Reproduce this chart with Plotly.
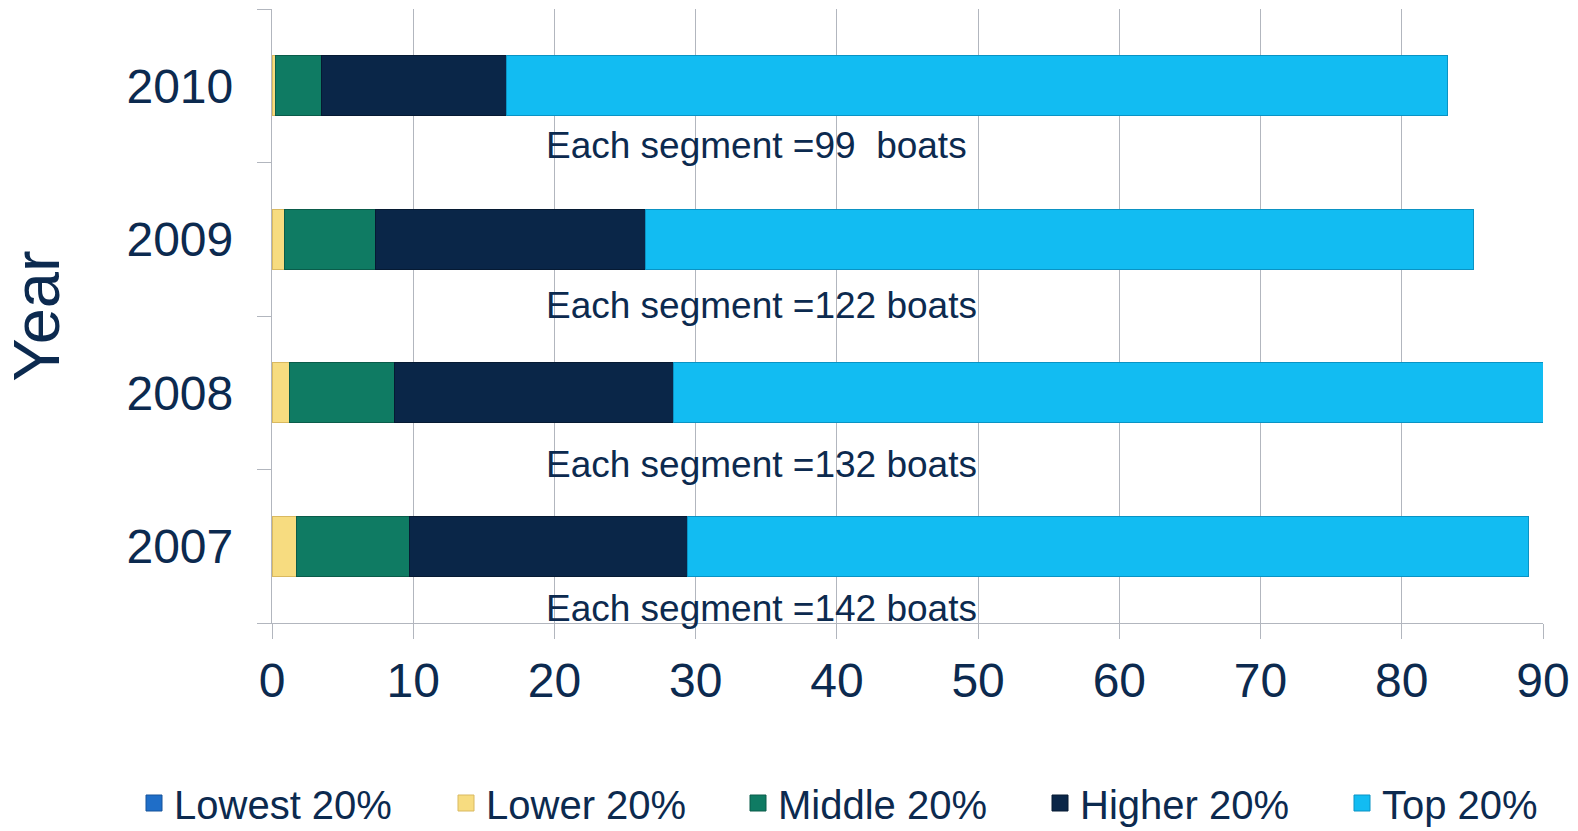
import plotly.graph_objects as go

years = ["2007", "2008", "2009", "2010"]
series_names = ["Lowest 20%", "Lower 20%", "Middle 20%", "Higher 20%", "Top 20%"]
lowest = [0.0, 0.0, 0.0, 0.0]
lower = [1.70, 1.23, 0.87, 0.28]
middle = [8.05, 7.43, 6.45, 3.21]
higher = [19.69, 19.78, 19.12, 13.11]
top = [59.52, 61.56, 58.62, 66.65]
segment_notes = ["Each segment =142 boats", "Each segment =132 boats",
                 "Each segment =122 boats", "Each segment =99\u00a0\u00a0boats"]
x_ticks = [0, 10, 20, 30, 40, 50, 60, 70, 80, 90]

colors = ["#1f6ec8", "#f7dc80", "#0f7b63", "#0a2648", "#12bcf2"]
edge_colors = ["#17529a", "#d9b960", "#0a5c4a", "#061a33", "#0a93c4"]
text_color = "#0c2a4f"
grid_color = "#b2b6be"

# one legend per entry so entries sit at the reference's positions
legend_ids = ["legend", "legend2", "legend3", "legend4", "legend5"]
legend_left_px = [134, 446, 738, 1040, 1342]

fig = go.Figure()
for name, vals, c, ec, lid in zip(series_names, [lowest, lower, middle, higher, top],
                                   colors, edge_colors, legend_ids):
    fig.add_trace(go.Bar(
        y=years, x=vals, orientation="h", name=name,
        marker=dict(color=c, line=dict(color=ec, width=1)),
        showlegend=False, hoverinfo="x+name",
    ))
    fig.add_trace(go.Scatter(
        x=[None], y=[None], mode="markers", name=name, legend=lid,
        marker=dict(symbol="square", size=16, color=c, line=dict(color=ec, width=1)),
        showlegend=True,
    ))

yshifts = [-62, -72, -66, -60]
for i, (yr, note) in enumerate(zip(years, segment_notes)):
    fig.add_annotation(
        x=19.24, y=i, xref="x", yref="y", text=note, showarrow=False,
        xanchor="left", yanchor="middle", yshift=yshifts[i],
        font=dict(size=37, color=text_color, family="Liberation Sans, Arial"),
    )

W, H = 1578, 831
legend_layout = {}
for lid, px in zip(legend_ids, legend_left_px):
    legend_layout[lid] = dict(
        orientation="h", xref="container", yref="container",
        x=px / W, xanchor="left", y=1 - 803 / H, yanchor="middle",
        font=dict(size=40, color=text_color), bgcolor="rgba(0,0,0,0)",
    )

fig.update_layout(
    barmode="stack",
    bargap=0.61,
    width=W, height=H,
    margin=dict(l=272, r=35, t=9, b=208, autoexpand=False),
    plot_bgcolor="white", paper_bgcolor="white",
    font=dict(family="Liberation Sans, Arial", color=text_color),
    **legend_layout,
)
fig.update_xaxes(
    range=[0, 90], tickvals=x_ticks, ticktext=[str(v) for v in x_ticks],
    showgrid=True, gridcolor=grid_color, gridwidth=1.3,
    showline=True, linecolor=grid_color, linewidth=1.3,
    ticks="outside", ticklen=15, tickcolor=grid_color, tickwidth=1.3,
    tickfont=dict(size=48, color=text_color), zeroline=False,
    ticklabelstandoff=0, automargin=False,
)
fig.update_yaxes(
    categoryorder="array", categoryarray=years, range=[-0.5, 3.5],
    showgrid=False, showline=True, linecolor=grid_color, linewidth=1.3,
    ticks="outside", tickson="boundaries", ticklen=14, tickcolor=grid_color, tickwidth=1.3,
    tickfont=dict(size=48, color=text_color), ticklabelstandoff=28, automargin=False,
    title=dict(text="Year", font=dict(size=65, color=text_color), standoff=46),
)

fig.write_html("out.html", config={"displayModeBar": False},
               post_script="document.body.style.margin='0';")
